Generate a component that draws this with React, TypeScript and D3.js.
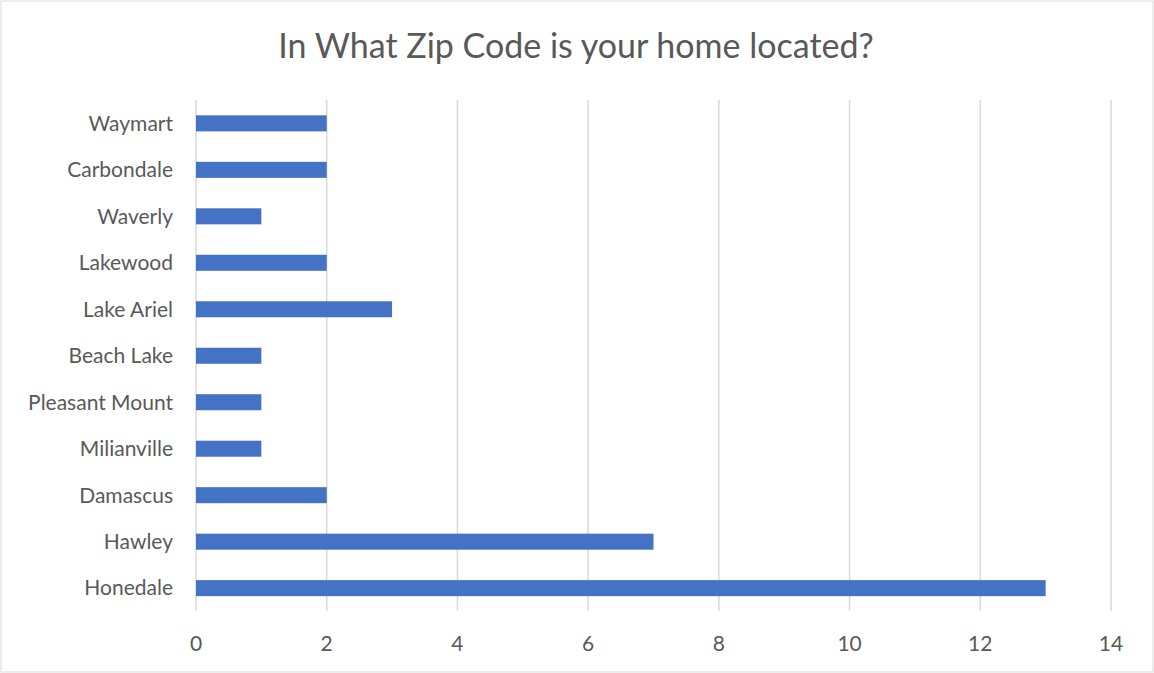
import * as d3 from "d3";

const categories = [
  "Waymart",
  "Carbondale",
  "Waverly",
  "Lakewood",
  "Lake Ariel",
  "Beach Lake",
  "Pleasant Mount",
  "Milianville",
  "Damascus",
  "Hawley",
  "Honedale",
];
const counts = [2, 2, 1, 2, 3, 1, 1, 1, 2, 7, 13];
const xTicks = [0, 2, 4, 6, 8, 10, 12, 14];

const width = 1154;
const height = 673;
const font = "Lato, 'Open Sans', sans-serif";

export default function App() {
  const x = d3.scaleLinear().domain([0, 14]).range([196, 1111]);
  const y = d3
    .scaleBand<string>()
    .domain(categories)
    .range([100, 611.5])
    .paddingInner(0.655)
    .paddingOuter(0.33);

  return (
    <svg
      width={width}
      height={height}
      style={{ position: "fixed", left: 0, top: 0, background: "#fff" }}
    >
      <rect x={1} y={1} width={width - 2} height={height - 2} fill="#fff" stroke="#d9d9d9" />
      <text
        x={576}
        y={58}
        textAnchor="middle"
        fontFamily={font}
        fontSize={34}
        fill="#595959"
      >
        In What Zip Code is your home located?
      </text>
      {xTicks.map((t) => (
        <g key={t}>
          <line x1={x(t)} x2={x(t)} y1={100} y2={611} stroke="#d9d9d9" strokeWidth={1.5} />
          <text
            x={x(t)}
            y={651}
            textAnchor="middle"
            fontFamily={font}
            fontSize={21}
            fill="#595959"
          >
            {t}
          </text>
        </g>
      ))}
      {categories.map((c, i) => (
        <g key={c}>
          <rect
            x={x(0)}
            y={y(c)!}
            width={x(counts[i]) - x(0)}
            height={y.bandwidth()}
            fill="#4472c4"
          />
          <text
            x={173}
            y={y(c)! + y.bandwidth() / 2}
            dy="0.35em"
            textAnchor="end"
            fontFamily={font}
            fontSize={21}
            fill="#595959"
          >
            {c}
          </text>
        </g>
      ))}
    </svg>
  );
}
